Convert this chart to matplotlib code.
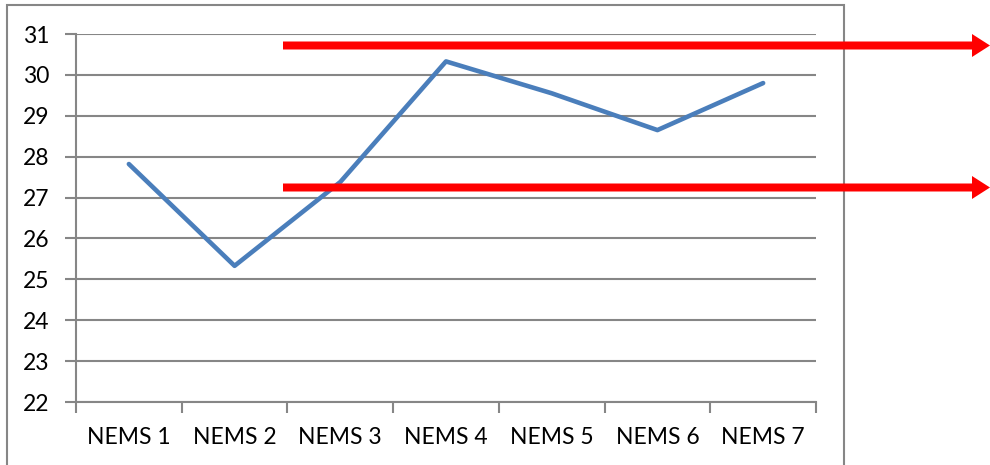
import matplotlib.pyplot as plt
from matplotlib.patches import FancyArrow, Rectangle

categories = ['NEMS 1', 'NEMS 2', 'NEMS 3', 'NEMS 4', 'NEMS 5', 'NEMS 6', 'NEMS 7']
values = [27.82, 25.33, 27.38, 30.33, 29.55, 28.65, 29.8]
y_ticks = [22, 23, 24, 25, 26, 27, 28, 29, 30, 31]

grey = '#868686'
plt.rcParams['font.family'] = ['Lato', 'DejaVu Sans']

fig = plt.figure(figsize=(9.9, 4.65), dpi=100)
ax = fig.add_axes([76 / 990, 1 - 402 / 465, 740 / 990, 368 / 465])

x = list(range(len(categories)))
ax.plot(x, values, color='#4A7EBB', lw=3.3, solid_capstyle='round', solid_joinstyle='round', zorder=3)

ax.set_xlim(-0.5, len(categories) - 0.5)
ax.set_ylim(22, 31)
ax.set_yticks(y_ticks)
ax.set_xticks(x)
ax.set_xticklabels(categories)
ax.set_xticks([i - 0.5 for i in range(len(categories) + 1)], minor=True)
ax.tick_params(axis='x', which='major', length=0, pad=18, labelsize=16.5)
ax.tick_params(axis='x', which='minor', length=8, width=1.5, color=grey)
ax.tick_params(axis='y', length=8, width=1.5, color=grey, pad=11, labelsize=16.5)

ax.grid(axis='y', color=grey, lw=1.5)
ax.set_axisbelow(True)
for side in ['top', 'right']:
    ax.spines[side].set_visible(False)
for side in ['left', 'bottom']:
    ax.spines[side].set_color(grey)
    ax.spines[side].set_linewidth(1.5)

# chart area border (bottom edge runs off the image)
fig.add_artist(Rectangle((0.07, -0.2), 8.37, 4.80, transform=fig.dpi_scale_trans,
                         fill=False, edgecolor=grey, lw=1.5))

# red level arrows running out past the chart border
for y_px in [45.5, 187.5]:
    y_in = (465 - y_px) / 100
    fig.add_artist(FancyArrow(2.83, y_in, 7.07, 0, width=0.08, head_width=0.23,
                              head_length=0.18, length_includes_head=True,
                              color='#FF0000', lw=0, transform=fig.dpi_scale_trans))

fig.savefig('out.png', dpi=100)
